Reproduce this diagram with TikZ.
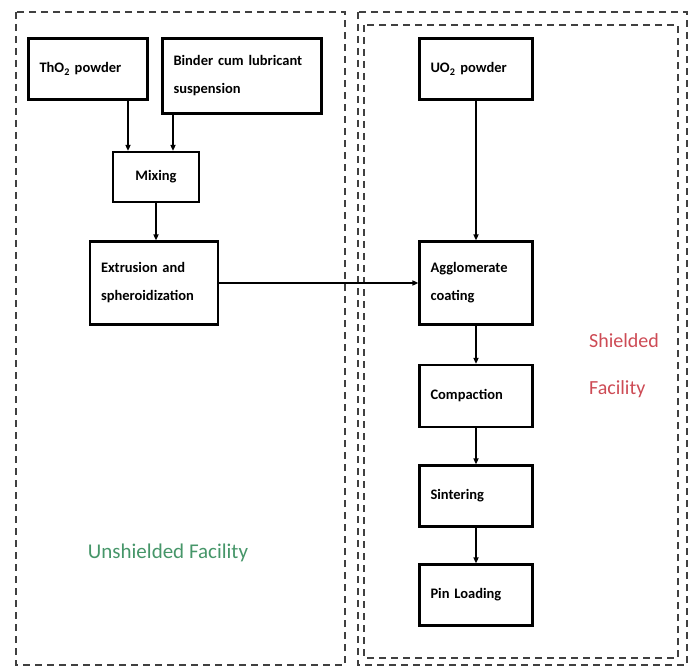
\documentclass[tikz,border=0pt]{standalone}
\usepackage{fontspec}
\setmainfont{Carlito}
\usetikzlibrary{arrows.meta}
\definecolor{zonegreen}{RGB}{70,150,105}
\definecolor{zonered}{RGB}{205,75,85}
\tikzset{
  procbox/.style={draw,line width=2.2pt,inner xsep=11pt,inner ysep=0pt,
    align=left,font=\bfseries\fontsize{14.5}{28}\selectfont},
  flow/.style={line width=1.5pt,-{Triangle[length=6pt,width=5pt]}},
  zone/.style={line width=2.2pt,gray!50!black,dash pattern=on 7pt off 5pt}
}
\begin{document}
\begin{tikzpicture}[x=1pt,y=-1pt]
\useasboundingbox (0,0) rectangle (693,668);
% facility borders
\draw[zone] (16,12) rectangle (345,665);
\draw[zone] (358,12) rectangle (687,665);
\draw[zone] (364,25) rectangle (678,658);
% unshielded side
\node[procbox,text width=97pt,minimum height=61pt] (tho2) at (88,69) {ThO\textsubscript{2} powder};
\node[procbox,text width=137pt,minimum height=75pt] (binder) at (242,76) {Binder cum lubricant\\suspension};
\node[procbox,text width=64pt,align=center,minimum height=50pt] (mix) at (156,177) {Mixing};
\node[procbox,text width=106pt,minimum height=83pt] (ext) at (154,283) {Extrusion and\\spheroidization};
% shielded side
\node[procbox,text width=91pt,minimum height=61pt] (uo2) at (476,69) {UO\textsubscript{2} powder};
\node[procbox,text width=91pt,minimum height=83pt] (agg) at (476,283) {Agglomerate\\coating};
\node[procbox,text width=91pt,minimum height=62pt] (comp) at (476,396) {Compaction};
\node[procbox,text width=91pt,minimum height=61pt] (sint) at (476,496) {Sintering};
\node[procbox,text width=91pt,minimum height=61pt] (pin) at (476,595) {Pin Loading};
% zone labels
\node[text=zonegreen,font=\fontsize{21}{25}\selectfont] (unsh) at (168,553) {Unshielded Facility};
\node[text=zonered,font=\fontsize{20}{47}\selectfont,align=left] (shld) at (624,366) {Shielded\\Facility};
% connectors
\draw[flow] ([xshift=40pt]tho2.south) -- ([xshift=40pt]tho2.south |- mix.north);
\draw[flow] ([xshift=-69pt]binder.south) -- ([xshift=-69pt]binder.south |- mix.north);
\draw[flow] (mix.south) -- (mix.south |- ext.north);
\draw[flow] (ext.east) -- (agg.west);
\draw[flow] (uo2) -- (agg);
\draw[flow] (agg) -- (comp);
\draw[flow] (comp) -- (sint);
\draw[flow] (sint) -- (pin);
\end{tikzpicture}
\end{document}
